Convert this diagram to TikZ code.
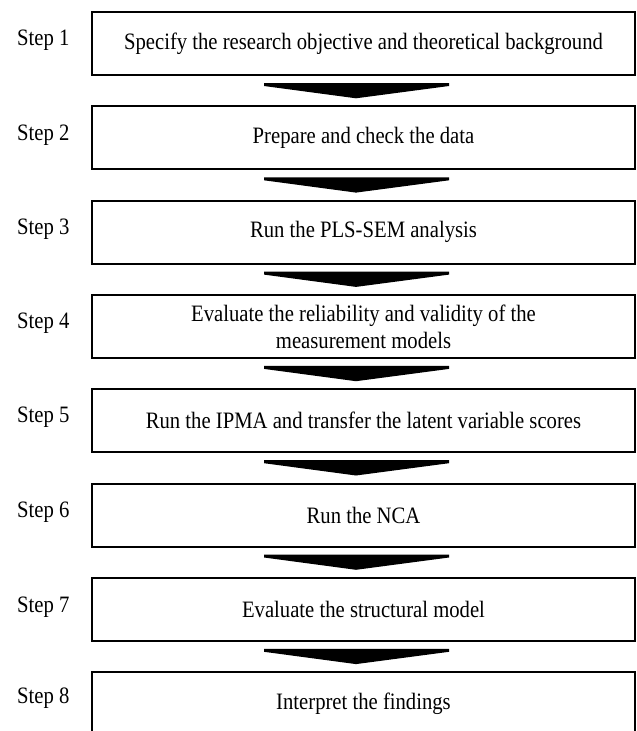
\documentclass[tikz,border=0pt]{standalone}
\usepackage{fontspec}
\setmainfont[FakeStretch=0.88]{Liberation Serif}
\usetikzlibrary{calc}
\tikzset{
  stepbox/.style={draw=black, line width=2pt, minimum width=543pt, minimum height=63pt, inner sep=0pt, align=center, font=\fontsize{23.5}{27}\selectfont},
  steplabel/.style={anchor=west, inner sep=0pt, font=\fontsize{23.5}{27}\selectfont},
  blockarrow/.style={fill=black, draw=none}
}
\newcommand{\blockarr}[2]{%
  \path[blockarrow] ($(#1.south)+(-99.5,7)$) -- ($(#1.south)+(85.5,7)$) -- ($(#1.south)+(85.5,10)$)
    -- ($(#2.north)+(-7.5,-7)$) -- ($(#1.south)+(-99.5,10)$) -- cycle;}
\begin{document}
\begin{tikzpicture}[x=1pt,y=-1pt]
\useasboundingbox (0,0) rectangle (637,731);
\node[stepbox] (b1) at (363.5,43.5) {Specify the research objective and theoretical background};
\node[stepbox] (b2) at (363.5,137.8) {Prepare and check the data};
\node[stepbox] (b3) at (363.5,232.1) {Run the PLS-SEM analysis};
\node[stepbox] (b4) at (363.5,326.4) {Evaluate the reliability and validity of the\\measurement models};
\node[stepbox] (b5) at (363.5,420.7) {Run the IPMA and transfer the latent variable scores};
\node[stepbox] (b6) at (363.5,515.0) {Run the NCA};
\node[stepbox] (b7) at (363.5,609.3) {Evaluate the structural model};
\node[stepbox] (b8) at (363.5,703.6) {Interpret the findings};
\node[steplabel] (s1) at (17,40.5) {Step 1};
\node[steplabel] (s2) at (17,134.8) {Step 2};
\node[steplabel] (s3) at (17,229.1) {Step 3};
\node[steplabel] (s4) at (17,323.4) {Step 4};
\node[steplabel] (s5) at (17,417.7) {Step 5};
\node[steplabel] (s6) at (17,512.0) {Step 6};
\node[steplabel] (s7) at (17,607.3) {Step 7};
\node[steplabel] (s8) at (17,698.6) {Step 8};
\blockarr{b1}{b2}
\blockarr{b2}{b3}
\blockarr{b3}{b4}
\blockarr{b4}{b5}
\blockarr{b5}{b6}
\blockarr{b6}{b7}
\blockarr{b7}{b8}
\end{tikzpicture}
\end{document}
